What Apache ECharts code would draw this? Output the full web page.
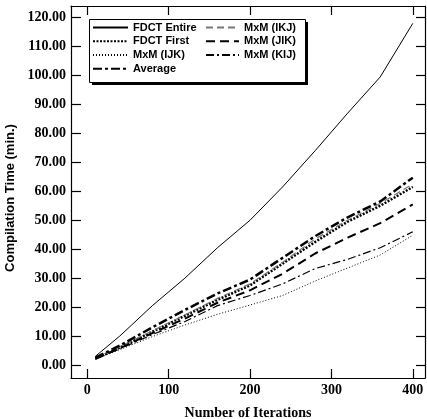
<!DOCTYPE html>
<html>
<head>
<meta charset="utf-8">
<script src="https://cdn.jsdelivr.net/npm/echarts@6/dist/echarts.min.js"></script>
<style>
  html, body { margin: 0; padding: 0; background: #fff; }
  #chart { width: 427px; height: 419px; }
</style>
</head>
<body>
<div id="chart"></div>
<script>
// Iteration counts sampled on the x axis
const iterations = [10, 40, 80, 120, 160, 200, 240, 280, 320, 360, 400];

// Compilation time in minutes for each benchmark
const fdctEntire = [3, 10, 20.5, 30, 40.5, 50, 61.5, 74, 87, 99.5, 118];
const fdctFirst  = [2.2, 6, 11.5, 17, 22.5, 27.5, 35, 42.5, 49.5, 55, 61.5];
const mxmIJK     = [2, 5.3, 9.8, 13.8, 17.5, 20.7, 24, 29, 33.5, 38, 44.8];
const mxmIKJ     = [2.3, 6.2, 11.8, 17.3, 23, 28, 35.5, 43.5, 50, 55.8, 62.5];
const mxmJIK     = [2.2, 5.8, 11, 16, 21.5, 25.8, 31.5, 38.5, 44, 49, 55.5];
const mxmKIJ     = [2.1, 5.6, 10.5, 15, 20.5, 24, 28, 33.3, 36.5, 40.5, 46];
const average    = [2.5, 6.7, 13, 19, 24.7, 29.5, 37, 44.5, 51, 56.5, 64.7];

// Tick labels
const xTicks = [0, 100, 200, 300, 400];
const yTicks = [0, 10, 20, 30, 40, 50, 60, 70, 80, 90, 100, 110, 120];

const pairs = ys => iterations.map((x, i) => [x, ys[i]]);

const chart = echarts.init(document.getElementById('chart'), null, { renderer: 'canvas' });

const serifBold = { fontFamily: 'Liberation Serif', fontWeight: 'bold', color: '#000' };
const frameLine = { show: true, onZero: false, lineStyle: { color: '#000', width: 1.2 } };
const tickStyle = { color: '#000', width: 1.2 };

function lineSeries(name, ys, color, width, dash) {
  return {
    name: name,
    type: 'line',
    data: pairs(ys),
    symbol: 'none',
    animation: false,
    lineStyle: { color: color, width: width, type: dash },
    itemStyle: { color: color }
  };
}

const legendCommon = {
  orient: 'vertical',
  itemWidth: 35,
  itemHeight: 14,
  itemGap: 2.5,
  padding: 0,
  itemStyle: { opacity: 0 },
  textStyle: { fontFamily: 'Liberation Sans', fontWeight: 'bold', fontSize: 11, color: '#000' },
  selectedMode: false
};

chart.setOption({
  animation: false,
  backgroundColor: '#fff',
  grid: { left: 71, top: 6, right: 2, bottom: 41, containLabel: false, outerBoundsMode: 'none' },
  graphic: [{
    // drop shadow of the legend box
    type: 'rect',
    z: 89,
    shape: { x: 92, y: 22, width: 216, height: 63 },
    style: { fill: '#000' }
  }, {
    type: 'rect',
    z: 90,
    shape: { x: 89.5, y: 19.5, width: 216, height: 63 },
    style: { fill: '#fff', stroke: '#000', lineWidth: 1 }
  }],
  legend: [
    Object.assign({}, legendCommon, {
      left: 92, top: 22, z: 100,
      data: ['FDCT Entire', 'FDCT First', 'MxM (IJK)', 'Average']
    }),
    Object.assign({}, legendCommon, {
      left: 205, top: 22, z: 100, itemWidth: 33,
      data: ['MxM (IKJ)', 'MxM (JIK)', 'MxM (KIJ)']
    })
  ],
  xAxis: [{
    type: 'value',
    min: -20,
    max: 415,
    position: 'bottom',
    name: 'Number of Iterations',
    nameLocation: 'middle',
    nameGap: 28,
    nameTextStyle: Object.assign({ fontSize: 14 }, serifBold),
    axisLine: frameLine,
    splitLine: { show: false },
    axisTick: { inside: true, length: 9, customValues: xTicks, lineStyle: tickStyle },
    axisLabel: { customValues: xTicks, margin: 5, fontSize: 14, ...serifBold }
  }, {
    type: 'value',
    min: -20,
    max: 415,
    position: 'top',
    axisLine: frameLine,
    splitLine: { show: false },
    axisTick: { inside: true, length: 9, customValues: xTicks, lineStyle: tickStyle },
    axisLabel: { show: false }
  }],
  yAxis: [{
    type: 'value',
    min: -4.5,
    max: 124,
    position: 'left',
    name: 'Compilation Time (min.)',
    nameLocation: 'middle',
    nameGap: 46,
    nameTextStyle: { fontFamily: 'Liberation Sans', fontWeight: 'bold', fontSize: 13, color: '#000', padding: [0, 12, 0, 0] },
    axisLine: frameLine,
    splitLine: { show: false },
    axisTick: { inside: true, length: 10, customValues: yTicks, lineStyle: tickStyle },
    axisLabel: {
      customValues: yTicks, margin: 5, fontSize: 14, ...serifBold,
      formatter: v => v.toFixed(2)
    }
  }, {
    type: 'value',
    min: -4.5,
    max: 124,
    position: 'right',
    axisLine: frameLine,
    splitLine: { show: false },
    axisTick: { inside: true, length: 9, customValues: yTicks, lineStyle: tickStyle },
    axisLabel: { show: false }
  }],
  series: [
    lineSeries('FDCT Entire', fdctEntire, '#000', 1, 'solid'),
    lineSeries('FDCT First', fdctFirst, '#000', 2.5, [2, 1.5]),
    lineSeries('MxM (IJK)', mxmIJK, '#000', 1, [1, 2]),
    lineSeries('MxM (IKJ)', mxmIKJ, '#777', 1.2, [7, 4]),
    lineSeries('MxM (JIK)', mxmJIK, '#000', 2, [9, 5]),
    lineSeries('MxM (KIJ)', mxmKIJ, '#000', 1.2, [8, 3, 2, 3]),
    lineSeries('Average', average, '#000', 2.5, [9, 3, 3, 3])
  ]
});
</script>
</body>
</html>
